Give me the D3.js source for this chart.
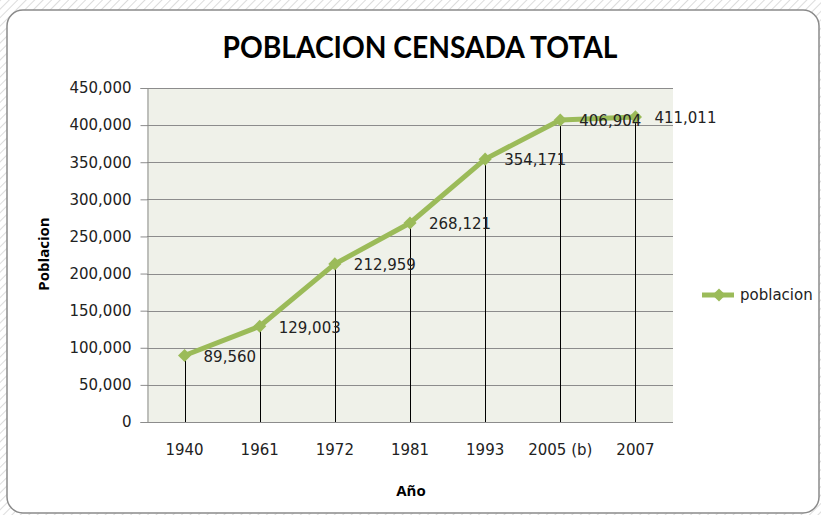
<!DOCTYPE html>
<html>
<head>
<meta charset="utf-8">
<script src="https://cdn.jsdelivr.net/npm/d3@7"></script>
<style>
  body { margin: 0; background: #fff; }
  text { font-family: "DejaVu Sans", sans-serif; }
</style>
</head>
<body>
<div id="chart"></div>
<script>
const years = ["1940", "1961", "1972", "1981", "1993", "2005 (b)", "2007"];
const poblacion = [89560, 129003, 212959, 268121, 354171, 406904, 411011];
const yTicks = [0, 50000, 100000, 150000, 200000, 250000, 300000, 350000, 400000, 450000];

const width = 821, height = 515;
const plot = { left: 147, right: 673, top: 88, bottom: 422 };
const green = "#9bbb59";
const fmt = d3.format(",");

const svg = d3.select("#chart").append("svg")
  .attr("width", width)
  .attr("height", height);

// hatched background outside the chart frame
const pat = svg.append("defs").append("pattern")
  .attr("id", "hatch")
  .attr("width", 6).attr("height", 6)
  .attr("patternUnits", "userSpaceOnUse")
  .attr("patternTransform", "rotate(45)");
pat.append("line")
  .attr("x1", 0).attr("y1", 0).attr("x2", 0).attr("y2", 6)
  .style("stroke", "#dcdcdc").style("stroke-width", 2);

svg.append("rect").attr("width", width).attr("height", height).style("fill", "url(#hatch)");

// chart frame
svg.append("rect")
  .attr("x", 7).attr("y", 10)
  .attr("width", 812).attr("height", 503)
  .attr("rx", 16)
  .style("fill", "#fff")
  .style("stroke", "#8a8a8a")
  .style("stroke-width", 1.5);

const x = d3.scaleBand().domain(years).range([plot.left, plot.right]);
const y = d3.scaleLinear().domain([0, 450000]).range([plot.bottom, plot.top]);

// plot area
svg.append("rect")
  .attr("x", plot.left).attr("y", plot.top)
  .attr("width", plot.right - plot.left).attr("height", plot.bottom - plot.top)
  .style("fill", "#eff1e9");

// gridlines
svg.append("g")
  .selectAll("line")
  .data(yTicks)
  .join("line")
  .attr("x1", plot.left).attr("x2", plot.right)
  .attr("y1", d => Math.round(y(d)) + 0.5).attr("y2", d => Math.round(y(d)) + 0.5)
  .style("stroke", "#8c8c8c");

// y axis
const yAxis = svg.append("g")
  .attr("transform", `translate(${plot.left + 0.5},0)`)
  .call(d3.axisLeft(y).tickValues(yTicks).tickFormat(fmt).tickSize(7).tickPadding(9));
yAxis.select(".domain").style("stroke", "#8c8c8c");
yAxis.selectAll(".tick line").style("stroke", "#8c8c8c");
yAxis.selectAll(".tick text")
  .style("font-size", "15px").style("fill", "#222")
  .style("font-family", "'DejaVu Sans', sans-serif");

// x axis labels
const xAxis = svg.append("g")
  .attr("transform", `translate(0,${plot.bottom})`)
  .call(d3.axisBottom(x).tickSize(0).tickPadding(22));
xAxis.select(".domain").remove();
xAxis.selectAll(".tick text")
  .style("font-size", "15px").style("fill", "#222")
  .style("font-family", "'DejaVu Sans', sans-serif");

const pts = years.map((yr, i) => ({ yr, v: poblacion[i] }));
const cx = d => x(d.yr) + x.bandwidth() / 2;

// drop lines
svg.append("g")
  .selectAll("line")
  .data(pts)
  .join("line")
  .attr("x1", d => Math.round(cx(d)) + 0.5).attr("x2", d => Math.round(cx(d)) + 0.5)
  .attr("y1", d => y(d.v)).attr("y2", plot.bottom)
  .style("stroke", "#000");

// series line
svg.append("path")
  .datum(pts)
  .attr("d", d3.line().x(cx).y(d => y(d.v)))
  .style("fill", "none")
  .style("stroke", green)
  .style("stroke-width", 5)
  .style("stroke-linejoin", "round");

const diamond = d3.symbol().type(d3.symbolDiamond2).size(110);
svg.append("g")
  .selectAll("path")
  .data(pts)
  .join("path")
  .attr("d", diamond)
  .attr("transform", d => `translate(${cx(d)},${y(d.v)})`)
  .style("fill", green);

// data labels
svg.append("g")
  .selectAll("text")
  .data(pts)
  .join("text")
  .attr("x", d => cx(d) + 19)
  .attr("y", d => y(d.v) + 1)
  .attr("dy", "0.35em")
  .style("font-size", "15px")
  .style("fill", "#222")
  .text(d => fmt(d.v));

// title
svg.append("text")
  .attr("x", 420).attr("y", 58)
  .attr("textLength", 395)
  .attr("lengthAdjust", "spacingAndGlyphs")
  .style("text-anchor", "middle")
  .style("font-family", "Lato, sans-serif")
  .style("font-size", "30px")
  .style("font-weight", "bold")
  .style("fill", "#000")
  .text("POBLACION CENSADA TOTAL");

// axis titles
svg.append("text")
  .attr("transform", "translate(49,254) rotate(-90)")
  .style("text-anchor", "middle")
  .style("font-family", "'Open Sans', sans-serif")
  .style("font-size", "15px")
  .style("font-weight", "bold")
  .text("Poblacion");

svg.append("text")
  .attr("x", 411).attr("y", 496)
  .style("text-anchor", "middle")
  .style("font-family", "'Open Sans', sans-serif")
  .style("font-size", "15px")
  .style("font-weight", "bold")
  .text("Año");

// legend
const legend = svg.append("g").attr("transform", "translate(702,295)");
legend.append("line")
  .attr("x1", 0).attr("x2", 32).attr("y1", 0).attr("y2", 0)
  .style("stroke", green).style("stroke-width", 5);
legend.append("path")
  .attr("d", diamond)
  .attr("transform", "translate(17,0)")
  .style("fill", green);
legend.append("text")
  .attr("x", 38).attr("y", 0).attr("dy", "0.35em")
  .style("font-size", "15px")
  .style("fill", "#222")
  .text("poblacion");
</script>
</body>
</html>
